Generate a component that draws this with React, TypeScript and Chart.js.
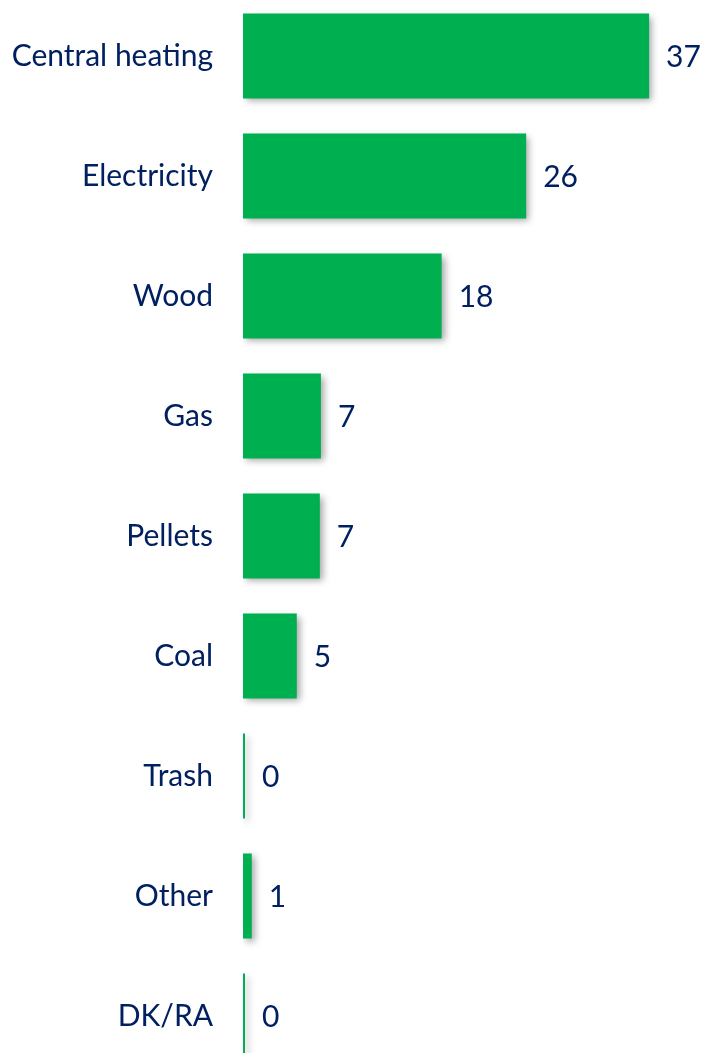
import React, { useEffect, useRef } from "react";
import { Chart, registerables } from "chart.js";

Chart.register(...registerables);

const categories = [
  "Central heating",
  "Electricity",
  "Wood",
  "Gas",
  "Pellets",
  "Coal",
  "Trash",
  "Other",
  "DK/RA",
];
const values = [37, 25.8, 18.1, 7.1, 7.0, 4.9, 0.1, 0.8, 0.1];
const valueLabels = ["37", "26", "18", "7", "7", "5", "0", "1", "0"];

const GREEN = "#00B050";
const NAVY = "#002060";
const FONT = "Lato, 'Open Sans', sans-serif";
const FONT_SIZE = 30;

const shadowPlugin = {
  id: "barShadow",
  beforeDatasetsDraw(chart: any) {
    const ctx = chart.ctx;
    ctx.save();
    ctx.shadowColor = "rgba(0,0,0,0.35)";
    ctx.shadowBlur = 7;
    ctx.shadowOffsetX = 3;
    ctx.shadowOffsetY = 3;
  },
  afterDatasetsDraw(chart: any) {
    chart.ctx.restore();
  },
};

const valueLabelPlugin = {
  id: "valueLabels",
  afterDraw(chart: any) {
    const ctx = chart.ctx;
    const meta = chart.getDatasetMeta(0);
    ctx.save();
    ctx.font = `${FONT_SIZE}px ${FONT}`;
    ctx.fillStyle = NAVY;
    ctx.textAlign = "left";
    ctx.textBaseline = "middle";
    meta.data.forEach((bar: any, i: number) => {
      ctx.fillText(valueLabels[i], bar.x + 17, bar.y + 1);
    });
    ctx.restore();
  },
};

export default function App() {
  const canvasRef = useRef<HTMLCanvasElement | null>(null);

  useEffect(() => {
    if (!canvasRef.current) return;
    const chart = new Chart(canvasRef.current, {
      type: "bar",
      data: {
        labels: categories,
        datasets: [
          {
            data: values,
            backgroundColor: GREEN,
            borderWidth: 0,
            minBarLength: 2,
            barPercentage: 0.708,
            categoryPercentage: 1,
          },
        ],
      },
      options: {
        indexAxis: "y",
        animation: false,
        responsive: false,
        layout: { padding: { left: 0, right: 1, top: 0, bottom: 0 } },
        plugins: {
          legend: { display: false },
          tooltip: { enabled: false },
        },
        scales: {
          x: {
            display: false,
            min: 0,
            max: 42,
          },
          y: {
            grid: { display: false, drawTicks: true, tickLength: 30 },
            border: { display: false },
            ticks: {
              color: NAVY,
              padding: 0,
              font: { family: FONT, size: FONT_SIZE },
            },
            afterFit(scale: any) {
              scale.width = 243;
              scale.paddingTop = 0;
              scale.paddingBottom = 0;
            },
          },
        },
      },
      plugins: [shadowPlugin, valueLabelPlugin],
    });
    return () => chart.destroy();
  }, []);

  return (
    <div
      style={{
        position: "fixed",
        left: 0,
        top: 0,
        width: 705,
        height: 1053,
        overflow: "hidden",
        background: "#fff",
      }}
    >
      <canvas
        ref={canvasRef}
        width={705}
        height={1080}
        style={{ position: "absolute", left: 0, top: -4.5, width: 705, height: 1080 }}
      />
    </div>
  );
}
